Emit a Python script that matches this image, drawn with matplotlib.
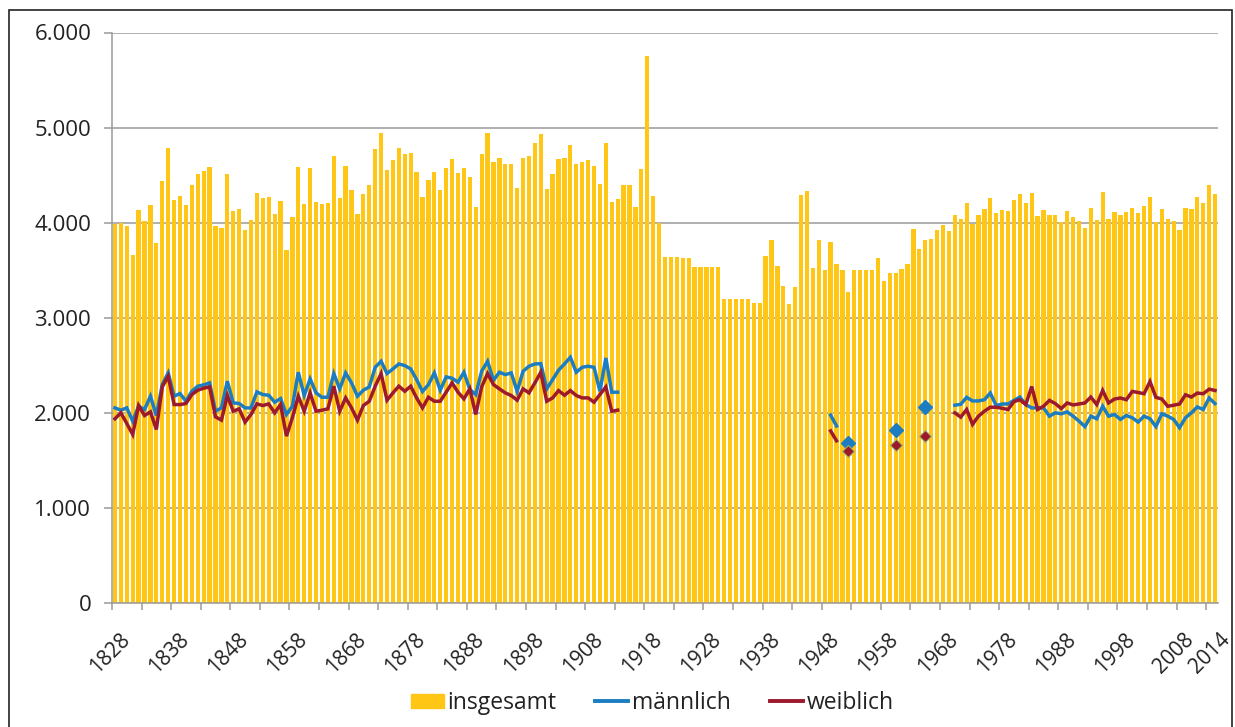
import matplotlib
matplotlib.use('Agg')
import matplotlib.pyplot as plt
from matplotlib.patches import Rectangle, Patch
from matplotlib.lines import Line2D
from matplotlib.ticker import FuncFormatter, FixedLocator
from matplotlib.transforms import ScaledTranslation
import numpy as np
import pandas as pd

#----------------------------------------------------------------------|
# Data

years = np.arange(1828, 2015)

total = [
    3990, 4000, 3965, 3657, 4136, 4017, 4189, 3790, 4440, 4787,   # 1828
    4241, 4280, 4189, 4399, 4507, 4545, 4584, 3962, 3948, 4507,   # 1838
    4126, 4147, 3923, 4031, 4308, 4255, 4269, 4094, 4231, 3710,   # 1848
    4056, 4590, 4192, 4577, 4220, 4192, 4203, 4696, 4259, 4591,   # 1858
    4339, 4087, 4297, 4392, 4776, 4948, 4549, 4654, 4787, 4724,   # 1868
    4734, 4538, 4273, 4444, 4535, 4339, 4577, 4668, 4524, 4577,   # 1878
    4483, 4164, 4724, 4948, 4643, 4682, 4615, 4615, 4364, 4682,   # 1888
    4696, 4843, 4934, 4350, 4507, 4668, 4682, 4815, 4615, 4640,   # 1898
    4654, 4591, 4402, 4843, 4220, 4245, 4392, 4392, 4164, 4563,   # 1908
    5750, 4283, 4000, 3636, 3636, 3636, 3633, 3633, 3529, 3529,   # 1918
    3529, 3529, 3529, 3201, 3201, 3201, 3201, 3201, 3159, 3159,   # 1928
    3647, 3820, 3543, 3332, 3149, 3322, 4291, 4332, 3519, 3820,   # 1938
    3502, 3792, 3567, 3502, 3266, 3502, 3502, 3502, 3502, 3633,   # 1948
    3384, 3474, 3474, 3516, 3567, 3934, 3723, 3817, 3827, 3920,   # 1958
    3972, 3910, 4083, 4038, 4211, 3986, 4083, 4142, 4263, 4104,   # 1968
    4131, 4121, 4235, 4301, 4211, 4315, 4066, 4131, 4083, 4083,   # 1978
    4003, 4121, 4055, 4014, 3948, 4149, 4031, 4318, 4041, 4107,   # 1988
    4083, 4107, 4159, 4097, 4176, 4266, 4003, 4145, 4041, 4017,   # 1998
    3927, 4159, 4145, 4266, 4211, 4398, 4304,                     # 2008
]

# maennlich / weiblich 1828-1913
male_early = [
    2052, 2028, 2052, 1913, 2070, 2035, 2175, 1972, 2297, 2420,
    2175, 2203, 2122, 2227, 2280, 2294, 2315, 2017, 2052, 2332,
    2105, 2098, 2052, 2052, 2220, 2192, 2185, 2112, 2150, 1983,
    2070, 2427, 2182, 2357, 2210, 2164, 2164, 2413, 2252, 2420,
    2315, 2175, 2238, 2273, 2479, 2542, 2413, 2462, 2514, 2497,
    2462, 2350, 2224, 2297, 2420, 2238, 2378, 2364, 2322, 2427,
    2245, 2192, 2437, 2542, 2343, 2427, 2402, 2420, 2227, 2437,
    2490, 2514, 2517, 2252, 2350, 2448, 2514, 2584, 2427, 2479,
    2490, 2479, 2227, 2577, 2217, 2217,
]
female_early = [
    1937, 2000, 1888, 1773, 2077, 1972, 2010, 1825, 2273, 2385,
    2087, 2087, 2098, 2192, 2238, 2259, 2273, 1958, 1923, 2182,
    2017, 2042, 1902, 1983, 2094, 2077, 2094, 2000, 2087, 1755,
    1950, 2175, 2017, 2210, 2017, 2028, 2042, 2280, 2017, 2157,
    2052, 1923, 2077, 2122, 2280, 2413, 2133, 2210, 2280, 2227,
    2280, 2157, 2052, 2164, 2122, 2122, 2217, 2315, 2217, 2147,
    2252, 1983, 2273, 2413, 2297, 2252, 2210, 2182, 2133, 2252,
    2210, 2315, 2427, 2122, 2157, 2234, 2185, 2234, 2182, 2157,
    2157, 2112, 2192, 2273, 2017, 2028,
]

# scattered post-war years
male_mid = {1949: 1976, 1950: 1862, 1952: 1678, 1960: 1820, 1965: 2062}
female_mid = {1949: 1810, 1950: 1706, 1952: 1602, 1960: 1661, 1965: 1758}

# 1970-2014
male_late = [
    2080, 2090, 2163, 2125, 2125, 2138, 2208, 2076, 2093, 2093,
    2131, 2166, 2087, 2052, 2052, 2052, 1965, 2000, 1990, 2010,
    1965, 1913, 1855, 1965, 1938, 2069, 1965, 1983, 1931, 1972,
    1948, 1903, 1965, 1938, 1855, 1990, 1965, 1931, 1844, 1948,
    2000, 2062, 2035, 2156, 2097,
]
female_late = [
    2000, 1955, 2035, 1879, 1965, 2017, 2059, 2059, 2048, 2035,
    2118, 2138, 2087, 2277, 2035, 2069, 2131, 2097, 2045, 2104,
    2083, 2093, 2104, 2166, 2087, 2235, 2104, 2145, 2156, 2138,
    2225, 2214, 2201, 2329, 2163, 2145, 2069, 2080, 2093, 2190,
    2166, 2208, 2201, 2249, 2235,
]

tick_labels = [str(y) for y in range(1828, 2009, 10)] + ['2014']


def build_series(early, mid, late):
    s = pd.Series(np.nan, index=years)
    s.loc[1828:1828 + len(early) - 1] = early
    for y, v in mid.items():
        s.loc[y] = v
    s.loc[1970:1970 + len(late) - 1] = late
    return s


male = build_series(male_early, male_mid, male_late)
female = build_series(female_early, female_mid, female_late)

#----------------------------------------------------------------------|
# Plot

c_bar = '#FFC616'
c_male = '#1C7DC0'
c_female = '#9C1A2C'
c_grid = '#9A9A9A'
c_text = '#222222'
plt.rcParams['font.family'] = ['Open Sans', 'DejaVu Sans']

W, H = 1235, 727
fig = plt.figure(figsize=(W / 100, H / 100), dpi=100)
ax = fig.add_axes([112 / W, 1 - 603 / H, (1218 - 112) / W, (603 - 32.5) / H])

x = np.arange(len(years))
ax.bar(x, total, width=0.72, color=c_bar, zorder=2)


def isolated(s):
    v = s.values
    prev = np.r_[np.nan, v[:-1]]
    nxt = np.r_[v[1:], np.nan]
    return ~np.isnan(v) & np.isnan(prev) & np.isnan(nxt)


ax.plot(x, male.values, color=c_male, lw=2.5, zorder=3, solid_joinstyle='miter')
ax.plot(x, female.values, color=c_female, lw=2.5, zorder=3, solid_joinstyle='miter')
m_iso = isolated(male)
f_iso = isolated(female)
ax.plot(x[m_iso], male.values[m_iso], 'D', color=c_male, ms=7, zorder=4)
ax.plot(x[f_iso], female.values[f_iso], 'D', color=c_female, mec='#9DB56A',
        mew=0.8, ms=6, zorder=4)

ax.set_xlim(-0.5, len(years) - 0.5)
ax.set_ylim(0, 6000)
ax.set_yticks(np.arange(0, 6001, 1000))
ax.yaxis.set_major_formatter(FuncFormatter(lambda v, p: f'{int(v):,}'.replace(',', '.')))
ax.grid(axis='y', color=c_grid, lw=1.1, zorder=0)
ax.set_axisbelow(True)

# x: ticks between categories every 5 years, labels every 10 years (+2014)
label_pos = [y - 1828 for y in range(1828, 2009, 10)] + [2014 - 1828]
ax.xaxis.set_major_locator(FixedLocator(label_pos))
ax.set_xticklabels(tick_labels, rotation=45, ha='right', va='top',
                   rotation_mode='anchor', fontsize=15, color=c_text)
ax.tick_params(axis='x', which='major', length=0, pad=19)
for lbl in ax.get_xticklabels():
    lbl.set_transform(lbl.get_transform() + ScaledTranslation(4 / 100, 0, fig.dpi_scale_trans))
ax.xaxis.set_minor_locator(FixedLocator(np.arange(-0.5, len(years), 5)))
ax.tick_params(axis='x', which='minor', length=5, color=c_grid, width=1.1)
ax.tick_params(axis='y', length=6, color=c_grid, width=1.1, pad=9,
               labelsize=16, labelcolor=c_text)

for side in ['top', 'right']:
    ax.spines[side].set_visible(False)
for side in ['left', 'bottom']:
    ax.spines[side].set_color(c_grid)
    ax.spines[side].set_linewidth(1.1)

# Legend
handles = [Patch(color=c_bar),
           Line2D([], [], color=c_male, lw=2.8),
           Line2D([], [], color=c_female, lw=2.8)]
fig.legend(handles, ['insgesamt', 'männlich', 'weiblich'], loc='center',
           bbox_to_anchor=(652 / W, 1 - 703 / H), ncol=3, frameon=False,
           fontsize=16.5, handlelength=1.45, handleheight=0.55, handletextpad=0.15,
           columnspacing=1.7, labelcolor=c_text)

# Outer frame
fig.patches.append(Rectangle((9 / W, -0.05), (1232 - 9) / W, 1.05 - 10 / H,
                             transform=fig.transFigure, fill=False,
                             ec=c_text, lw=1.2))

fig.savefig('out.png', dpi=100)
